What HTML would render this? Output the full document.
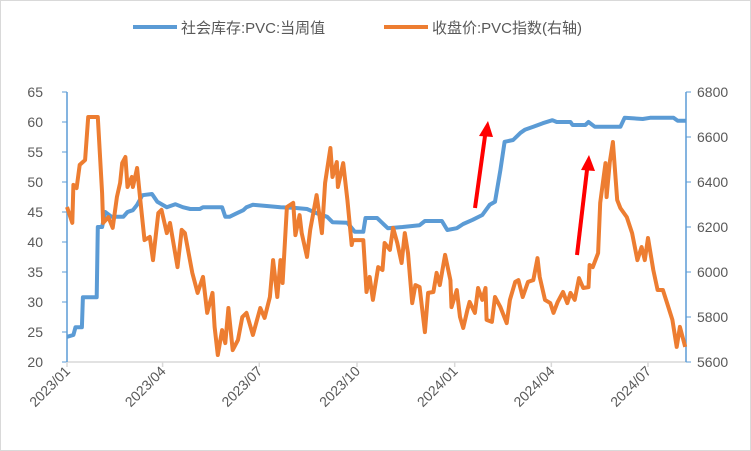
<!DOCTYPE html>
<html><head><meta charset="utf-8"><style>
body{margin:0;background:#fff}
svg{display:block;font-family:"Liberation Sans","Noto Sans CJK SC",sans-serif}
</style></head><body>
<svg id="c" width="751" height="451">
<rect x="0.5" y="0.5" width="750" height="450" fill="#fff" stroke="#d9d9d9"/>
<g id="legend">
<line x1="133" y1="27" x2="177" y2="27" stroke="#5b9bd5" stroke-width="4"/>
<text x="181" y="33" font-size="15" fill="#595959">社会库存:PVC:当周值</text>
<line x1="384" y1="27" x2="428" y2="27" stroke="#ed7d31" stroke-width="4"/>
<text x="432" y="33" font-size="15" fill="#595959">收盘价:PVC指数(右轴)</text>
</g>
<g id="axes"></g>
<g id="series"></g>
<g>
<line x1="475" y1="208" x2="485" y2="136" stroke="#ff0000" stroke-width="4"/>
<polygon points="488,121 479,136 493,137" fill="#ff0000"/>
<line x1="577" y1="255" x2="587" y2="170" stroke="#ff0000" stroke-width="4"/>
<polygon points="589,155 581,170 595,171" fill="#ff0000"/>
</g>
</svg>
<script>
const leftTicks=[20,25,30,35,40,45,50,55,60,65];
const rightTicks=[5600,5800,6000,6200,6400,6600,6800];
const xTickDays=[0,90,181,273,365,456,547];
const xTickLabels=["2023/01","2023/04","2023/07","2023/10","2024/01","2024/04","2024/07"];
const invDays=[0,6,8,14,15,28,29,33,36,42,53,57,62,66,71,80,85,94,102,109,116,125,128,146,149,153,160,166,169,175,188,201,213,226,235,245,250,264,271,279,281,292,302,316,332,337,353,358,367,373,382,391,398,403,408,412,420,427,431,439,448,457,461,474,476,488,491,497,521,525,542,549,571,575,583];
const invValues=[24.2,24.5,25.8,25.8,30.8,30.8,42.5,42.5,45.0,44.2,44.2,45.0,45.3,46.2,47.8,48.0,46.7,45.8,46.3,45.8,45.5,45.5,45.8,45.8,44.2,44.2,44.8,45.3,45.8,46.2,46.0,45.8,45.7,45.5,44.8,44.2,43.3,43.2,41.7,41.7,44.0,44.0,42.3,42.5,42.8,43.5,43.5,42.0,42.3,43.0,43.7,44.5,46.2,46.7,52.0,56.7,57.0,58.2,58.7,59.2,59.8,60.3,60.0,60.0,59.5,59.5,60.0,59.2,59.2,60.7,60.5,60.7,60.7,60.2,60.2];
const priceDays=[0,5,6,9,12,17,20,29,33,34,39,43,47,50,52,55,57,61,62,66,69,73,78,81,86,89,94,97,104,108,111,118,123,128,132,137,139,142,146,149,152,156,161,165,169,175,182,186,191,194,198,201,203,207,213,215,219,221,226,229,235,240,243,248,250,254,255,260,264,268,269,279,282,285,288,293,297,299,304,307,311,315,318,321,325,328,332,337,340,345,348,351,356,361,362,367,370,373,377,379,384,387,391,394,395,400,403,408,414,417,422,425,429,434,439,443,445,450,455,458,462,467,471,474,478,482,486,491,492,495,500,502,507,508,511,514,518,521,527,532,537,541,544,547,552,556,561,565,570,574,577,582];
const priceValues=[6289,6218,6387,6373,6476,6498,6689,6689,6351,6218,6244,6196,6333,6396,6484,6511,6378,6422,6378,6462,6320,6142,6156,6053,6262,6276,6173,6218,6022,6187,6173,5996,5907,5978,5818,5907,5756,5631,5742,5684,5840,5653,5698,5800,5818,5720,5840,5796,5889,6053,5889,6053,5951,6289,6307,6164,6253,6173,6067,6187,6342,6173,6396,6551,6422,6489,6378,6484,6320,6120,6142,6142,5911,5978,5876,6022,6009,6129,6098,6196,6129,6040,6173,6084,5862,5942,5933,5733,5907,5911,5996,5942,6076,5964,5844,5920,5800,5751,5831,5867,5818,5929,5876,5929,5787,5778,5889,5844,5773,5876,5956,5964,5889,5956,5964,6062,5978,5876,5862,5818,5867,5911,5862,5907,5876,5973,5929,5933,6031,6022,6084,6307,6484,6333,6489,6578,6320,6284,6244,6173,6053,6111,6053,6151,6009,5920,5920,5862,5787,5667,5756,5667];

const X0=67,X1=686,Y0=362,Y1=92;
const xs=d=>X0+d*(648-67)/547;
const yl=v=>Y0-(v-20)/(65-20)*(Y0-Y1);
const yr=v=>Y0-(v-5600)/(6800-5600)*(Y0-Y1);
const NS="http://www.w3.org/2000/svg";
function mk(tag,attrs,parent){const e=document.createElementNS(NS,tag);for(const k in attrs)e.setAttribute(k,attrs[k]);parent.appendChild(e);return e;}
const ax=document.getElementById('axes'), se=document.getElementById('series');

const xl=mk('line',{x1:X0,y1:Y0,x2:X1,y2:Y0,stroke:'#d9d9d9','stroke-width':1.5},ax);


const ll=mk('line',{x1:X0,y1:Y1,x2:X0,y2:Y0,stroke:'#5b9bd5','stroke-width':1.5},ax);


const rl=mk('line',{x1:X1,y1:Y1,x2:X1,y2:Y0,stroke:'#5b9bd5','stroke-width':1.5},ax);



leftTicks.forEach(v=>{
  const y=yl(v);
  const t=mk('line',{x1:X0-5,y1:y,x2:X0,y2:y,stroke:'#5b9bd5','stroke-width':1},ax);
  
  
  const l=mk('text',{x:X0-24,y:y+5,'font-size':14,fill:'#595959','text-anchor':'end'},ax);
  
  
  l.textContent=v;
});
rightTicks.forEach(v=>{
  const y=yr(v);
  const t=mk('line',{x1:X1,y1:y,x2:X1+5,y2:y,stroke:'#5b9bd5','stroke-width':1},ax);
  
  
  const l=mk('text',{x:X1+11,y:y+5,'font-size':14,fill:'#595959'},ax);
  
  
  l.textContent=v;
});
xTickDays.forEach((d,i)=>{
  const x=xs(d);
  const t=mk('line',{x1:x,y1:Y0,x2:x,y2:Y0+5,stroke:'#d9d9d9','stroke-width':1.5},ax);
  
  
  const l=mk('text',{x:x+4,y:Y0+10,'font-size':14,fill:'#595959','text-anchor':'end',transform:`rotate(-45 ${x+4} ${Y0+10})`},ax);
  
  
  l.textContent=xTickLabels[i];
});

const invPts=invDays.map((d,i)=>xs(d).toFixed(1)+','+yl(invValues[i]).toFixed(1)).join(' ');
const inv=mk('polyline',{points:invPts,fill:'none',stroke:'#5b9bd5','stroke-width':4,'stroke-linejoin':'round'},se);


const prPts=priceDays.map((d,i)=>xs(d).toFixed(1)+','+yr(priceValues[i]).toFixed(1)).join(' ');
const pr=mk('polyline',{points:prPts,fill:'none',stroke:'#ed7d31','stroke-width':4,'stroke-linejoin':'round'},se);


</script>
</body></html>
